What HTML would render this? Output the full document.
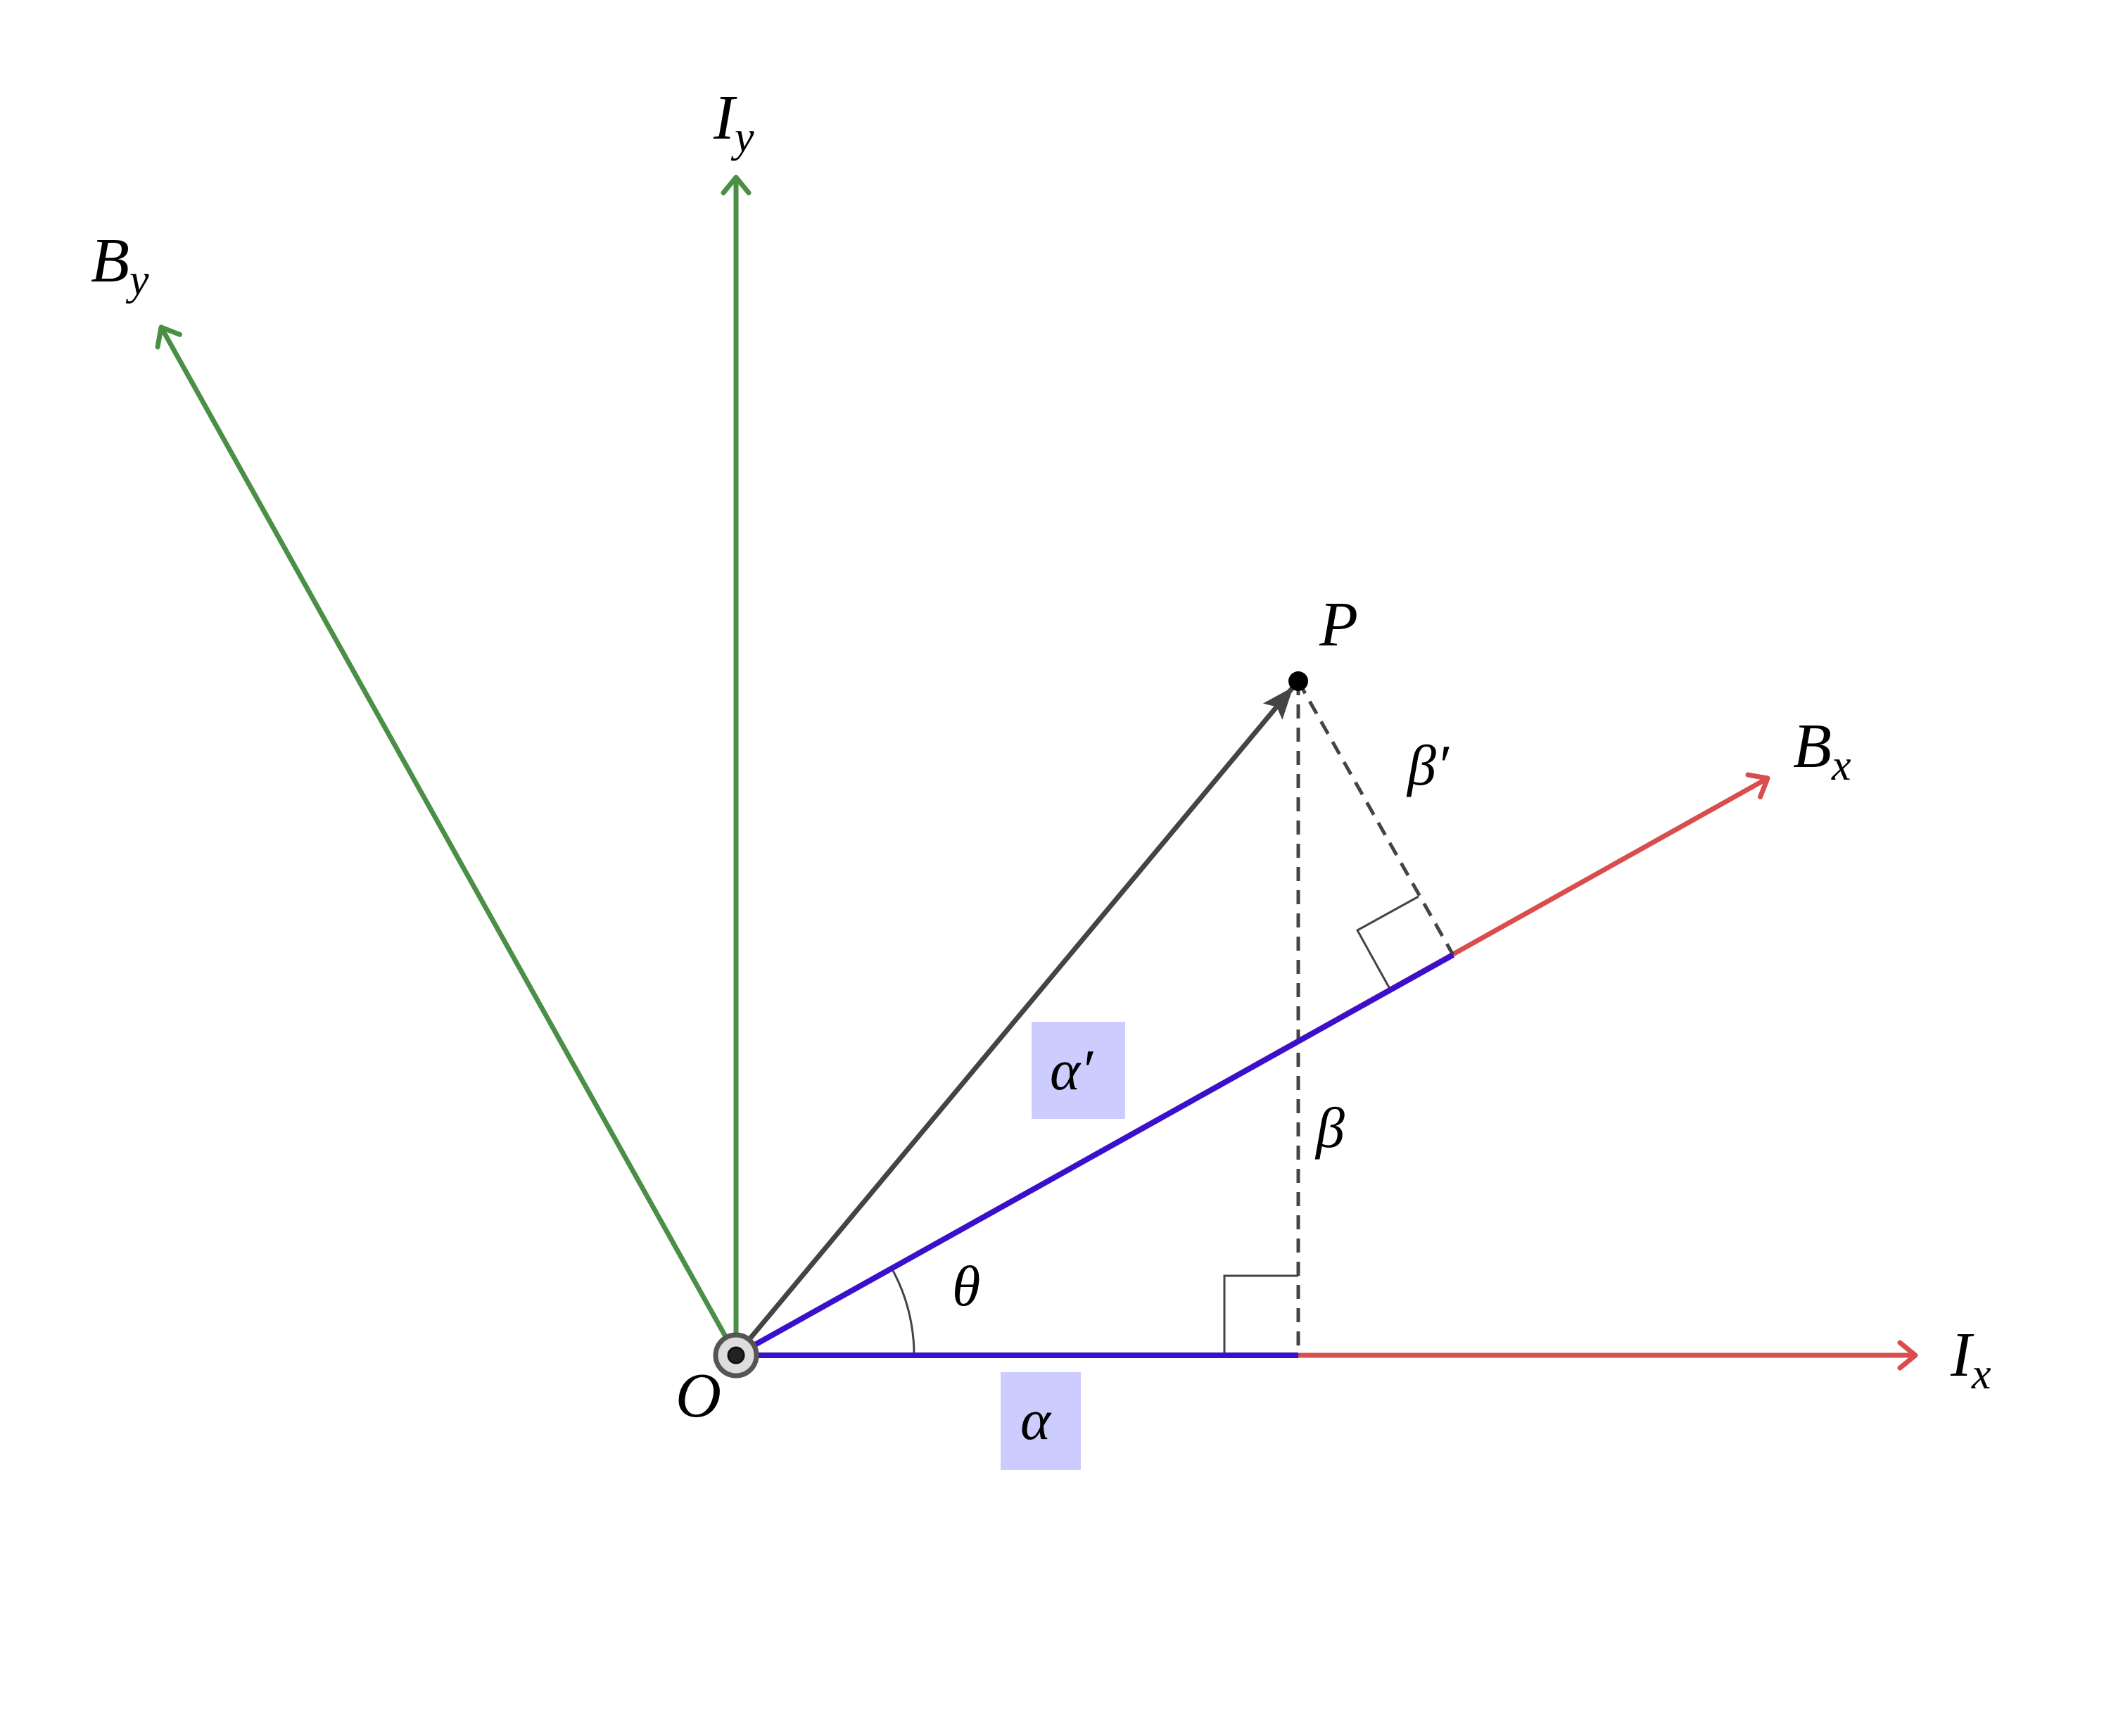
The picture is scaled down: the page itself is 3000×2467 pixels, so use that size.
<!DOCTYPE html>
<html><head><meta charset="utf-8"><style>
html,body{margin:0;padding:0;background:#fff}
svg{display:block}
text{font-family:"Liberation Serif",serif;font-style:italic;fill:#000}
</style></head><body>
<svg width="3000" height="2467" viewBox="0 0 3000 2467" xmlns="http://www.w3.org/2000/svg">
<defs>
<marker id="ag" markerUnits="userSpaceOnUse" markerWidth="60" markerHeight="60" refX="30" refY="30" orient="auto"><path d="M8,12 L30,30 L8,48" fill="none" stroke="#4a8f45" stroke-width="7" stroke-linecap="round" stroke-linejoin="round"/></marker>
<marker id="ar" markerUnits="userSpaceOnUse" markerWidth="60" markerHeight="60" refX="30" refY="30" orient="auto"><path d="M8,12 L30,30 L8,48" fill="none" stroke="#d94d4d" stroke-width="7" stroke-linecap="round" stroke-linejoin="round"/></marker>
<marker id="ak" markerUnits="userSpaceOnUse" markerWidth="70" markerHeight="70" refX="46" refY="35" orient="auto"><path d="M0,17 L46,35 L0,53 L9,35 Z" fill="#444"/></marker>
</defs>
<rect x="1466" y="1452" width="133" height="138" fill="#ccccff"/>
<rect x="1422" y="1950" width="114" height="139" fill="#ccccff"/>
<line x1="1046" y1="1926" x2="1046" y2="252" stroke="#4a8f45" stroke-width="7" marker-end="url(#ag)"/>
<line x1="1046" y1="1926" x2="229" y2="465" stroke="#4a8f45" stroke-width="7" marker-end="url(#ag)"/>
<line x1="1046" y1="1926" x2="2722" y2="1926" stroke="#d94d4d" stroke-width="7" marker-end="url(#ar)"/>
<line x1="1046" y1="1926" x2="2512" y2="1106" stroke="#d94d4d" stroke-width="7" marker-end="url(#ar)"/>
<line x1="1845" y1="968" x2="1845" y2="1926" stroke="#444" stroke-width="5" stroke-dasharray="20,13"/>
<line x1="1845" y1="968" x2="2065" y2="1357" stroke="#444" stroke-width="5" stroke-dasharray="20,13"/>
<polyline points="1740,1926 1740,1813 1845,1813" fill="none" stroke="#444" stroke-width="3"/>
<polyline points="1975,1405 1929,1322 2016,1274" fill="none" stroke="#444" stroke-width="3"/>
<path d="M1299,1926 A253,253 0 0 0 1267,1802" fill="none" stroke="#444" stroke-width="3"/>
<line x1="1046" y1="1926" x2="1845" y2="1926" stroke="#3a10cc" stroke-width="8"/>
<line x1="1046" y1="1926" x2="2065" y2="1357" stroke="#3a10cc" stroke-width="8"/>
<line x1="1046" y1="1926" x2="1838" y2="976" stroke="#444" stroke-width="7" marker-end="url(#ak)"/>
<circle cx="1845" cy="968" r="14" fill="#000"/>
<circle cx="1046" cy="1926" r="29" fill="#ddd" stroke="#555" stroke-width="7"/>
<circle cx="1046" cy="1926" r="11" fill="#222" stroke="#111" stroke-width="3"/>
<text x="1014" y="197" font-size="90">I<tspan font-size="62" dy="18">y</tspan></text>
<text x="129" y="400" font-size="90">B<tspan font-size="62" dy="18">y</tspan></text>
<text x="1875" y="917" font-size="90">P</text>
<text x="2548" y="1090" font-size="90">B<tspan font-size="62" dy="18">x</tspan></text>
<text x="2772" y="1955" font-size="90">I<tspan font-size="62" dy="18">x</tspan></text>
<text x="960" y="2013" font-size="90">O</text>
<text x="1353" y="1855" font-size="82">θ</text>
<text x="1450" y="2045" font-size="82">α</text>
<text x="1492" y="1548" font-size="82">α′</text>
<text x="1870" y="1630" font-size="82">β</text>
<text x="2000" y="1115" font-size="82">β′</text>
</svg>
</body></html>
